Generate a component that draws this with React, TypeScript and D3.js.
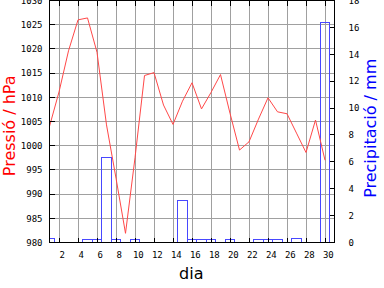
import React from "react";
import * as d3 from "d3";

const days = d3.range(1, 31);
const pressure = [1004.0, 1011.1, 1019.6, 1026.0, 1026.4, 1019.3, 1004.3, 993.3, 981.9, 997.5, 1014.5, 1015.1, 1008.4, 1004.4, 1009.2, 1013.0, 1007.6, 1011.0, 1014.7, 1006.7, 999.1, 1000.8, 1005.5, 1009.9, 1007.0, 1006.6, 1002.6, 998.6, 1005.3, 997.0];
const precip = [0.3, 0, 0, 0, 0.2, 0.2, 6.3, 0.2, 0, 0.2, 0, 0, 0, 0, 3.1, 0.2, 0.2, 0.2, 0, 0.2, 0, 0, 0.2, 0.2, 0.2, 0, 0.3, 0, 0, 16.4];
const xTicks = d3.range(2, 31, 2);
const pTicks = d3.range(980, 1031, 5);
const mTicks = d3.range(0, 19, 2);

const W = 384, H = 288;
const L = 49.5, R = 334.5, T = 0.5, B = 242.5;

export default function App() {
  const x = d3.scaleLinear().domain([1, 31]).range([L, R]);
  const yP = d3.scaleLinear().domain([980, 1030]).range([B, T]);
  const yM = d3.scaleLinear().domain([0, 18]).range([B, T]);
  const line = d3.line<number>().x((_, i) => x(days[i])).y((p) => yP(p));
  const mono = "DejaVu Sans Mono";
  const sans = "DejaVu Sans";
  const grid = "#a0a0a0";
  return (
    <svg width={W} height={H} style={{ position: "absolute", left: 0, top: 0, background: "#fff" }}>
      <rect x={0} y={0} width={W} height={H} fill="#fff" />
      <g shapeRendering="crispEdges" stroke={grid} strokeWidth={1}>
        {xTicks.map((d) => (
          <line key={"gx" + d} x1={x(d)} x2={x(d)} y1={T} y2={B} />
        ))}
        {pTicks.slice(1, -1).map((p) => (
          <line key={"gy" + p} x1={L} x2={R} y1={yP(p)} y2={yP(p)} />
        ))}
      </g>
      <defs>
        <clipPath id="plot">
          <rect x={L} y={0} width={R - L} height={B} />
        </clipPath>
      </defs>
      <g clipPath="url(#plot)" shapeRendering="crispEdges" fill="none" stroke="#4848ff" strokeWidth={1}>
        {days.map((d, i) =>
          precip[i] > 0 ? (
            <rect key={"b" + d} x={Math.max(L, x(d - 0.5))} y={yM(precip[i])}
              width={Math.min(R, x(d + 0.5)) - Math.max(L, x(d - 0.5))} height={B - yM(precip[i])} />
          ) : null
        )}
      </g>
      <path d={line(pressure) || ""} fill="none" stroke="#ff4848" strokeWidth={1} />
      <g shapeRendering="crispEdges" stroke="#000" strokeWidth={1}>
        <rect x={L} y={T} width={R - L} height={B - T} fill="none" />
        {xTicks.map((d) => (
          <g key={"tx" + d}>
            <line x1={x(d)} x2={x(d)} y1={B} y2={B - 5} />
            <line x1={x(d)} x2={x(d)} y1={T} y2={T + 5} />
          </g>
        ))}
        {pTicks.map((p) => (
          <line key={"tp" + p} x1={L} x2={L + 5} y1={yP(p)} y2={yP(p)} />
        ))}
        {mTicks.map((m) => (
          <line key={"tm" + m} x1={R} x2={R - 5} y1={yM(m)} y2={yM(m)} />
        ))}
      </g>
      <g fontFamily={mono} fontSize={9} fill="#000">
        {pTicks.map((p) => (
          <text key={"lp" + p} x={42.5} y={yP(p) + 3.3} textAnchor="end">{p}</text>
        ))}
        {mTicks.map((m) => (
          <text key={"lm" + m} x={348.5} y={yM(m) + 3.3} textAnchor="start">{m}</text>
        ))}
        {xTicks.map((d) => (
          <text key={"lx" + d} x={x(d) + 3.3} y={258} textAnchor="middle">{d}</text>
        ))}
      </g>
      <text transform="translate(15,125.8) rotate(-90)" textAnchor="middle" fontFamily={sans} fontSize={16} fill="#ff0000">Pressió / hPa</text>
      <text transform="translate(375.7,128.3) rotate(-90)" textAnchor="middle" fontFamily={sans} fontSize={16} fill="#0000ff">Precipitació / mm</text>
      <text x={191.3} y={278.5} textAnchor="middle" fontFamily={sans} fontSize={16} fill="#000">dia</text>
    </svg>
  );
}
